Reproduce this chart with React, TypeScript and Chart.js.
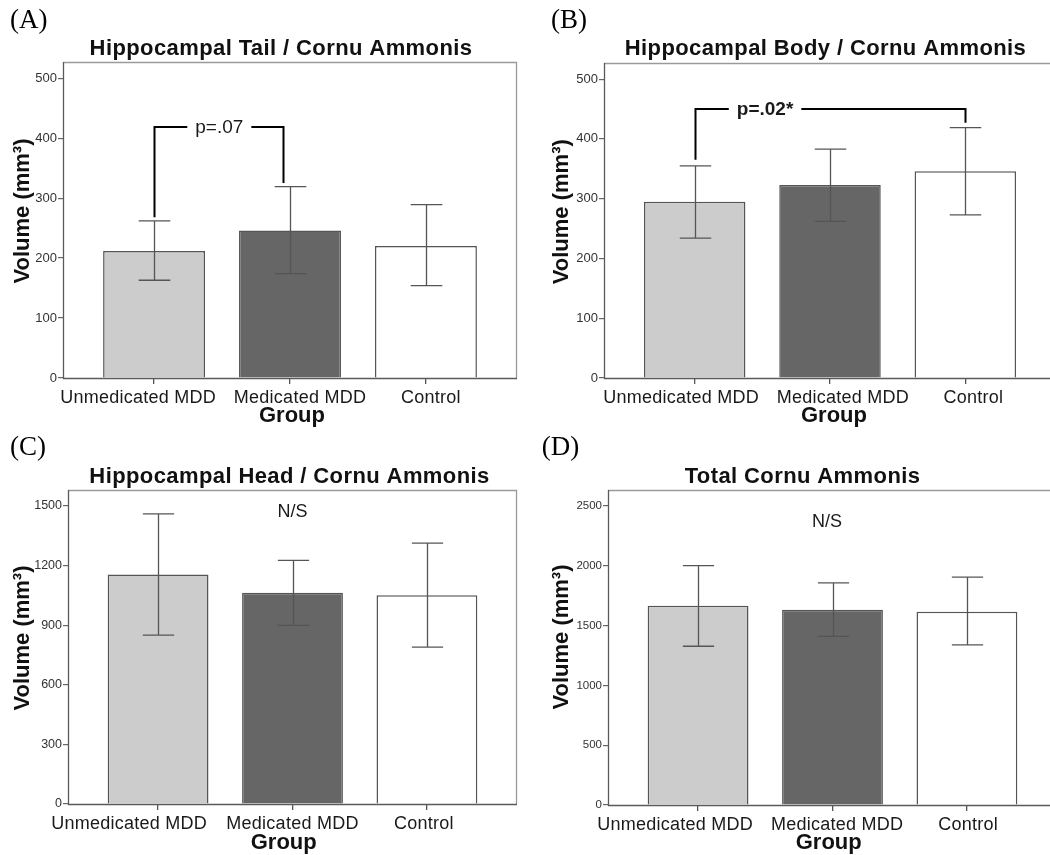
import React, { useEffect, useRef } from 'react';
import { Chart, registerables } from 'chart.js';

Chart.register(...registerables);

const SANS = "'Liberation Sans', Arial, Helvetica, sans-serif";
const SERIF = "'Liberation Serif', 'Times New Roman', serif";

const categories = ['Unmedicated MDD', 'Medicated MDD', 'Control'];
const barColors = ['#cccccc', '#666666', '#ffffff'];

const tailMeans = [212, 246, 220];
const tailLower = [163, 174, 154];
const tailUpper = [262, 319, 289];
const tailTicks = [0, 100, 200, 300, 400, 500];

const bodyMeans = [295, 323, 346];
const bodyLower = [234, 262, 273];
const bodyUpper = [355, 383, 419];
const bodyTicks = [0, 100, 200, 300, 400, 500];

const headMeans = [1155, 1063, 1051];
const headLower = [850, 899, 789];
const headUpper = [1460, 1226, 1313];
const headTicks = [0, 300, 600, 900, 1200, 1500];

const totalMeans = [1666, 1633, 1616];
const totalLower = [1327, 1410, 1338];
const totalUpper = [2001, 1856, 1904];
const totalTicks = [0, 500, 1000, 1500, 2000, 2500];

// significance annotations (data coordinates)
const tailBracket = { fromX: 1, toX: 1.95, fromY: 268, topY: 418, toY: 325, labelX: 1.48, text: 'p=.07', bold: false };
const bodyBracket = { fromX: 1, toX: 3, fromY: 365, topY: 450, toY: 427, labelX: 1.52, text: 'p=.02*', bold: true };
const headNote = { x: 2, y: 1470, text: 'N/S' };
const totalNote = { x: 1.96, y: 2369, text: 'N/S' };

type Panel = {
  left: number; top: number; width: number; height: number;
  area: { l: number; t: number; r: number; b: number };
  label: string; labelX: number; labelY: number;
  title: string; titleX: number; titleY: number;
  yLabelX: number; yLabelY: number;
  groupX: number; groupY: number;
  yMax: number; ticks: number[]; tickSize: number;
  means: number[]; lower: number[]; upper: number[];
  xLabelOffsets: number[];
  bracket?: typeof tailBracket;
  note?: typeof headNote;
};

const panels: Panel[] = [
  {
    left: 0, top: 0, width: 525, height: 430,
    area: { l: 63, t: 62, r: 517, b: 378 },
    label: '(A)', labelX: 10, labelY: 28,
    title: 'Hippocampal Tail / Cornu Ammonis', titleX: 281, titleY: 55,
    yLabelX: 22.5, yLabelY: 211, groupX: 292, groupY: 422,
    yMax: 527, ticks: tailTicks, tickSize: 13,
    means: tailMeans, lower: tailLower, upper: tailUpper,
    xLabelOffsets: [-16, 10, 5],
    bracket: tailBracket,
  },
  {
    left: 525, top: 0, width: 545, height: 430,
    area: { l: 79, t: 63, r: 531, b: 378 },
    label: '(B)', labelX: 26, labelY: 28,
    title: 'Hippocampal Body / Cornu Ammonis', titleX: 300.5, titleY: 55,
    yLabelX: 36.7, yLabelY: 211.7, groupX: 309, groupY: 421.7,
    yMax: 527, ticks: bodyTicks, tickSize: 13,
    means: bodyMeans, lower: bodyLower, upper: bodyUpper,
    xLabelOffsets: [-13.5, 12.8, 8],
    bracket: bodyBracket,
  },
  {
    left: 0, top: 430, width: 525, height: 425,
    area: { l: 68, t: 60, r: 517, b: 374 },
    label: '(C)', labelX: 10, labelY: 25,
    title: 'Hippocampal Head / Cornu Ammonis', titleX: 289.5, titleY: 53.3,
    yLabelX: 22.5, yLabelY: 208, groupX: 283.7, groupY: 419.3,
    yMax: 1580, ticks: headTicks, tickSize: 12.5,
    means: headMeans, lower: headLower, upper: headUpper,
    xLabelOffsets: [-29, 0, -3],
    note: headNote,
  },
  {
    left: 525, top: 430, width: 545, height: 425,
    area: { l: 83, t: 60, r: 532, b: 375 },
    label: '(D)', labelX: 16.7, labelY: 25,
    title: 'Total Cornu Ammonis', titleX: 277.5, titleY: 53,
    yLabelX: 36.7, yLabelY: 207, groupX: 303.7, groupY: 419.3,
    yMax: 2633, ticks: totalTicks, tickSize: 11.5,
    means: totalMeans, lower: totalLower, upper: totalUpper,
    xLabelOffsets: [-23, 4.6, 1.3],
    note: totalNote,
  },
];

function PanelChart({ p }: { p: Panel }) {
  const ref = useRef<HTMLCanvasElement | null>(null);
  useEffect(() => {
    if (!ref.current) return;
    const decor = {
      id: 'decor',
      afterDatasetsDraw(chart: any) {
        const ctx = chart.ctx as any;
        const xs = chart.scales.x;
        const ys = chart.scales.y;
        const ca = chart.chartArea;
        const meta = chart.getDatasetMeta(0);
        ctx.save();
        // plot frame
        ctx.lineWidth = 1.3;
        ctx.strokeStyle = '#9a9a9a';
        ctx.beginPath();
        ctx.moveTo(ca.left, ca.top + 0.5);
        ctx.lineTo(ca.right, ca.top + 0.5);
        ctx.moveTo(ca.right - 0.5, ca.top);
        ctx.lineTo(ca.right - 0.5, ca.bottom);
        ctx.stroke();
        ctx.strokeStyle = '#5a5a5a';
        ctx.beginPath();
        ctx.moveTo(ca.left + 0.5, ca.top);
        ctx.lineTo(ca.left + 0.5, ca.bottom + 0.5);
        ctx.lineTo(ca.right, ca.bottom + 0.5);
        ctx.stroke();

        // error bars
        ctx.strokeStyle = '#555';
        ctx.lineWidth = 1.3;
        meta.data.forEach((bar: any, i: number) => {
          const cx = Math.round(bar.x) + 0.5;
          const hw = bar.width * 0.155;
          const yl = ys.getPixelForValue(p.lower[i]);
          const yu = ys.getPixelForValue(p.upper[i]);
          ctx.beginPath();
          ctx.moveTo(cx, yl);
          ctx.lineTo(cx, yu);
          ctx.moveTo(cx - hw, yu);
          ctx.lineTo(cx + hw, yu);
          ctx.moveTo(cx - hw, yl);
          ctx.lineTo(cx + hw, yl);
          ctx.stroke();
        });

        // x category labels
        ctx.fillStyle = '#1a1a1a';
        ctx.font = `18px ${SANS}`;
        ctx.letterSpacing = '0.25px';
        ctx.textAlign = 'center';
        ctx.textBaseline = 'alphabetic';
        categories.forEach((c, i) => {
          ctx.fillText(c, xs.getPixelForValue(i + 1) + p.xLabelOffsets[i], ca.bottom + 25);
        });
        ctx.letterSpacing = '0px';

        // axis titles
        ctx.fillStyle = '#111';
        ctx.font = `bold 22px ${SANS}`;
        ctx.fillText('Group', p.groupX, p.groupY);
        ctx.save();
        ctx.translate(p.yLabelX, p.yLabelY);
        ctx.rotate(-Math.PI / 2);
        ctx.textBaseline = 'middle';
        ctx.fillText('Volume (mm\u00B3)', 0, 0);
        ctx.restore();

        // chart title
        ctx.font = `bold 22px ${SANS}`;
        ctx.letterSpacing = '0.4px';
        ctx.fillText(p.title, p.titleX, p.titleY);
        ctx.letterSpacing = '0px';

        // panel letter
        ctx.textAlign = 'left';
        ctx.font = `27px ${SERIF}`;
        ctx.fillStyle = '#000';
        ctx.fillText(p.label, p.labelX, p.labelY);

        // bracket
        if (p.bracket) {
          const b = p.bracket;
          const x1 = Math.round(xs.getPixelForValue(b.fromX)) + 0.5;
          const x2 = Math.round(xs.getPixelForValue(b.toX)) + 0.5;
          const yTop = Math.round(ys.getPixelForValue(b.topY));
          const y1 = ys.getPixelForValue(b.fromY);
          const y2 = ys.getPixelForValue(b.toY);
          const lx = xs.getPixelForValue(b.labelX);
          ctx.font = `${b.bold ? 'bold ' : ''}19px ${SANS}`;
          const tw = ctx.measureText(b.text).width;
          const gap = 8;
          ctx.strokeStyle = '#000';
          ctx.lineWidth = 2;
          ctx.beginPath();
          ctx.moveTo(x1, y1);
          ctx.lineTo(x1, yTop);
          ctx.lineTo(lx - tw / 2 - gap, yTop);
          ctx.moveTo(lx + tw / 2 + gap, yTop);
          ctx.lineTo(x2, yTop);
          ctx.lineTo(x2, y2);
          ctx.stroke();
          ctx.fillStyle = '#1a1a1a';
          ctx.textAlign = 'center';
          ctx.textBaseline = 'alphabetic';
          ctx.fillText(b.text, lx, yTop + 6);
        }
        if (p.note) {
          const n = p.note;
          ctx.font = `18px ${SANS}`;
          ctx.fillStyle = '#1a1a1a';
          ctx.textAlign = 'center';
          ctx.textBaseline = 'middle';
          ctx.fillText(n.text, xs.getPixelForValue(n.x), ys.getPixelForValue(n.y));
        }
        ctx.restore();
      },
    };

    const chart = new Chart(ref.current, {
      type: 'bar',
      data: {
        datasets: [
          {
            data: p.means.map((m, i) => ({ x: i + 1, y: m })),
            backgroundColor: barColors,
            borderColor: '#555',
            borderWidth: 1.5,
            barPercentage: 0.75,
            categoryPercentage: 1,
          } as any,
        ],
      },
      options: {
        responsive: false,
        maintainAspectRatio: false,
        animation: false,
        events: [],
        layout: { padding: { top: p.area.t, right: p.width - p.area.r, left: 0, bottom: 0 } },
        plugins: { legend: { display: false }, title: { display: false }, tooltip: { enabled: false } },
        scales: {
          x: {
            type: 'linear',
            offset: false,
            min: 0.33,
            max: 3.67,
            afterBuildTicks: (s: any) => { s.ticks = categories.map((_, i) => ({ value: i + 1 })); },
            afterFit: (s: any) => { s.height = p.height - p.area.b; },
            ticks: { display: false },
            grid: { display: true, offset: false, drawOnChartArea: false, drawTicks: true, tickLength: 6, color: '#555', lineWidth: 1.3 },
            border: { display: false },
          },
          y: {
            type: 'linear',
            min: 0,
            max: p.yMax,
            afterBuildTicks: (s: any) => { s.ticks = p.ticks.map((v) => ({ value: v })); },
            afterFit: (s: any) => { s.width = p.area.l; },
            ticks: {
              font: { family: SANS, size: p.tickSize },
              color: '#333',
              padding: 1,
              callback: (v: any) => String(v),
            },
            grid: { display: true, drawOnChartArea: false, drawTicks: true, tickLength: 5, color: '#666', lineWidth: 1.2 },
            border: { display: false },
          },
        },
      } as any,
      plugins: [decor],
    });
    return () => chart.destroy();
  }, [p]);
  return (
    <canvas
      ref={ref}
      width={p.width}
      height={p.height}
      style={{ position: 'absolute', left: p.left, top: p.top, width: p.width, height: p.height }}
    />
  );
}

export default function App() {
  return (
    <div
      style={{
        position: 'fixed', left: 0, top: 0, width: 1050, height: 855,
        overflow: 'hidden', background: '#ffffff',
      }}
    >
      {panels.map((p) => (
        <PanelChart key={p.label} p={p} />
      ))}
    </div>
  );
}
